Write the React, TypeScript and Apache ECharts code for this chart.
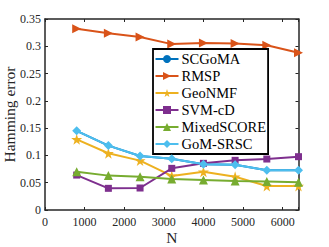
import React, { useEffect, useRef } from "react";
import * as echarts from "echarts";

const nValues = [800, 1600, 2400, 3200, 4000, 4800, 5600, 6400];
const scgoma = [0.145, 0.118, 0.099, 0.094, 0.084, 0.083, 0.073, 0.073];
const rmsp = [0.332, 0.324, 0.317, 0.304, 0.306, 0.305, 0.302, 0.288];
const geonmf = [0.1295, 0.104, 0.0905, 0.0625, 0.070, 0.061, 0.044, 0.044];
const svmcd = [0.064, 0.0397, 0.0403, 0.0763, 0.0855, 0.091, 0.0934, 0.0977];
const mixedscore = [0.070, 0.063, 0.061, 0.057, 0.055, 0.053, 0.052, 0.0507];
const gomsrsc = [0.145, 0.118, 0.099, 0.094, 0.084, 0.083, 0.073, 0.073];

const seriesNames = ["SCGoMA", "RMSP", "GeoNMF", "SVM-cD", "MixedSCORE", "GoM-SRSC"];
const seriesColors = ["#0072BD", "#D95319", "#EDB120", "#7E2F8E", "#77AC30", "#4DBEEE"];

const FONT = "'Liberation Serif', 'Times New Roman', serif";
const INK = "#262626";

export default function App() {
  const ref = useRef<HTMLDivElement>(null);
  useEffect(() => {
    if (!ref.current) return;
    const chart = echarts.init(ref.current, undefined, { renderer: "svg" });
    const allData = [scgoma, rmsp, geonmf, svmcd, mixedscore, gomsrsc];
    const symbols = [
      "circle",
      "path://M0,0 L10,5 L0,10 Z",
      "path://M50,0 L61,35 L98,35 L68,57 L79,91 L50,70 L21,91 L32,57 L2,35 L39,35 Z",
      "rect",
      "triangle",
      "diamond",
    ];
    const sizes = [5, 9, 11, 7, 9, 9];
    const axisCommon = {
      axisLine: { show: true, onZero: false, lineStyle: { color: INK, width: 1.5 } },
      axisTick: { show: true, inside: true, length: 3, lineStyle: { color: INK, width: 1 } },
      splitLine: { show: false },
    };
    chart.setOption({
      animation: false,
      grid: { left: 45, right: 30.5, top: 19, bottom: 37, containLabel: false, outerBoundsMode: "none" },
      legend: {
        data: seriesNames,
        orient: "vertical",
        left: 153,
        top: 49,
        backgroundColor: "#ffffff",
        borderColor: "#000000",
        borderWidth: 1.8,
        padding: [1.5, 2, 1.5, 1.5],
        itemWidth: 23,
        itemHeight: 10,
        itemGap: 0,
        textStyle: { fontFamily: FONT, fontSize: 14.5, color: "#000", lineHeight: 17, padding: [0, 0, 0, -2] },
      },
      xAxis: [
        {
          type: "value",
          min: 0,
          max: 6400,
          interval: 1000,
          name: "N",
          nameLocation: "middle",
          nameGap: 19,
          nameMoveOverlap: false,
          nameTextStyle: { fontFamily: FONT, fontSize: 15.5, color: INK },
          axisLabel: {
            fontFamily: FONT,
            fontSize: 12,
            color: INK,
            margin: 6,
            formatter: (v: number) => (v === 6400 ? "" : String(v)),
          },
          ...axisCommon,
        },
        {
          type: "value",
          position: "top",
          min: 0,
          max: 6400,
          interval: 1000,
          axisLabel: { show: false },
          ...axisCommon,
        },
      ],
      yAxis: [
        {
          type: "value",
          min: 0,
          max: 0.35,
          interval: 0.05,
          name: "Hamming error",
          nameLocation: "middle",
          nameGap: 28,
          nameRotate: 90,
          nameMoveOverlap: false,
          nameTextStyle: { fontFamily: FONT, fontSize: 15.5, color: INK },
          axisLabel: {
            fontFamily: FONT,
            fontSize: 12,
            color: INK,
            margin: 4,
            formatter: (v: number) => String(parseFloat(v.toFixed(2))),
          },
          ...axisCommon,
        },
        {
          type: "value",
          position: "right",
          min: 0,
          max: 0.35,
          interval: 0.05,
          axisLabel: { show: false },
          ...axisCommon,
        },
      ],
      series: seriesNames.map((name, i) => ({
        name,
        type: "line",
        data: nValues.map((n, j) => [n, allData[i][j]]),
        symbol: symbols[i],
        symbolSize: sizes[i],
        lineStyle: { color: seriesColors[i], width: 2 },
        itemStyle: { color: seriesColors[i] },
        color: seriesColors[i],
        showAllSymbol: true,
        z: 2 + i,
      })),
    });
    return () => chart.dispose();
  }, []);
  return (
    <div
      ref={ref}
      style={{ position: "fixed", left: 0, top: 0, width: 329, height: 247, background: "#fff" }}
    />
  );
}
